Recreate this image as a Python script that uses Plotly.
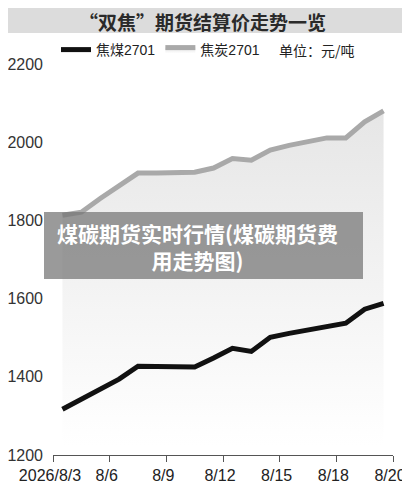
import plotly.graph_objects as go

# 结算价 (元/吨), 2026/8/3 - 8/20
dates = ["8/3", "8/4", "8/5", "8/6", "8/7", "8/8", "8/9", "8/10", "8/11",
         "8/12", "8/13", "8/14", "8/15", "8/16", "8/17", "8/18", "8/19", "8/20"]
jiaomei = [1317, 1342, 1366, 1394, 1427, 1426, 1425, 1425, 1448,
           1473, 1465, 1501, 1511, 1519, 1527, 1537, 1573, 1588]
jiaotan = [1813, 1821, 1856, 1887, 1921, 1921, 1922, 1923, 1934,
           1958, 1954, 1980, 1992, 2003, 2011, 2011, 2052, 2080]
tick_labels = ["2026/8/3", "8/6", "8/9", "8/12", "8/15", "8/18", "8/20"]

idx = list(range(len(dates)))
font = "Liberation Sans, Noto Sans CJK SC, sans-serif"
cjk = "Noto Sans CJK SC"


# page pixel -> paper coords (plot area on the page: x 53..393, y 64..455)
def px(x):
    return (x - 53) / 340


def py(y):
    return (455 - y) / 391


fig = go.Figure()
fig.add_trace(go.Scatter(
    x=idx, y=jiaotan, name="焦炭2701", mode="lines",
    line=dict(color="#a9a9a9", width=5),
    fill="tozeroy",
    fillgradient=dict(type="vertical", start=1225, stop=2080,
                      colorscale=[[0, "rgb(255,255,255)"], [1, "rgb(230,230,230)"]]),
))
fig.add_trace(go.Scatter(
    x=idx, y=jiaomei, name="焦煤2701", mode="lines",
    line=dict(color="#111111", width=5),
))

# the page body has an 8px margin, so the figure is 8px smaller and shifted
fig.update_layout(
    width=402, height=483,
    margin=dict(l=45, r=17, t=56, b=36),
    paper_bgcolor="white", plot_bgcolor="white",
    font=dict(family=font, size=16, color="#333333"),
    showlegend=True,
    legend=dict(orientation="h", x=px(56), xanchor="left", y=py(50), yanchor="middle",
                traceorder="reversed", font=dict(size=14, color="#222222"),
                itemwidth=30, bgcolor="rgba(0,0,0,0)"),
    xaxis=dict(range=[-0.5, 17.5], tickmode="array", automargin=False,
               tickvals=[-0.5, 2.5, 5.5, 8.5, 11.5, 14.5, 17.5],
               ticktext=tick_labels, showgrid=False, zeroline=False,
               showline=True, linecolor="#555555", linewidth=1,
               ticks="outside", ticklen=6, tickcolor="#555555", ticklabelshift=-3,
               tickfont=dict(size=16, color="#222222")),
    yaxis=dict(range=[1200, 2200], dtick=200, showgrid=False, zeroline=False,
               showline=False, ticks="", ticklabelstandoff=9, automargin=False,
               tickfont=dict(size=16, color="#333333")),
)

# title bar
fig.add_shape(type="rect", xref="paper", yref="paper",
              x0=px(5), x1=px(412), y0=py(33), y1=py(0),
              fillcolor="#dcdcdc", line=dict(width=0), layer="below")
fig.add_annotation(text="<b>“双焦”期货结算价走势一览</b>", xref="paper", yref="paper",
                   x=px(202), y=py(21), showarrow=False,
                   font=dict(size=19, color="#2a2a2a", family=cjk),
                   xanchor="center", yanchor="middle")
fig.add_annotation(text="单位：元/吨", xref="paper", yref="paper",
                   x=px(277), y=py(50), showarrow=False,
                   font=dict(size=14, color="#222222", family=cjk),
                   xanchor="left", yanchor="middle")

# overlay caption
fig.add_shape(type="rect", xref="paper", yref="paper",
              x0=px(44), x1=px(363), y0=py(279), y1=py(212),
              fillcolor="rgba(120,120,120,0.75)", line=dict(width=0), layer="above")
fig.add_annotation(text="<b>煤碳期货实时行情(煤碳期货费<br>用走势图)</b>",
                   xref="paper", yref="paper",
                   x=px(197), y=py(246), showarrow=False,
                   font=dict(size=21, color="white", family=cjk),
                   align="center", xanchor="center", yanchor="middle")

fig.write_html("out.html")
